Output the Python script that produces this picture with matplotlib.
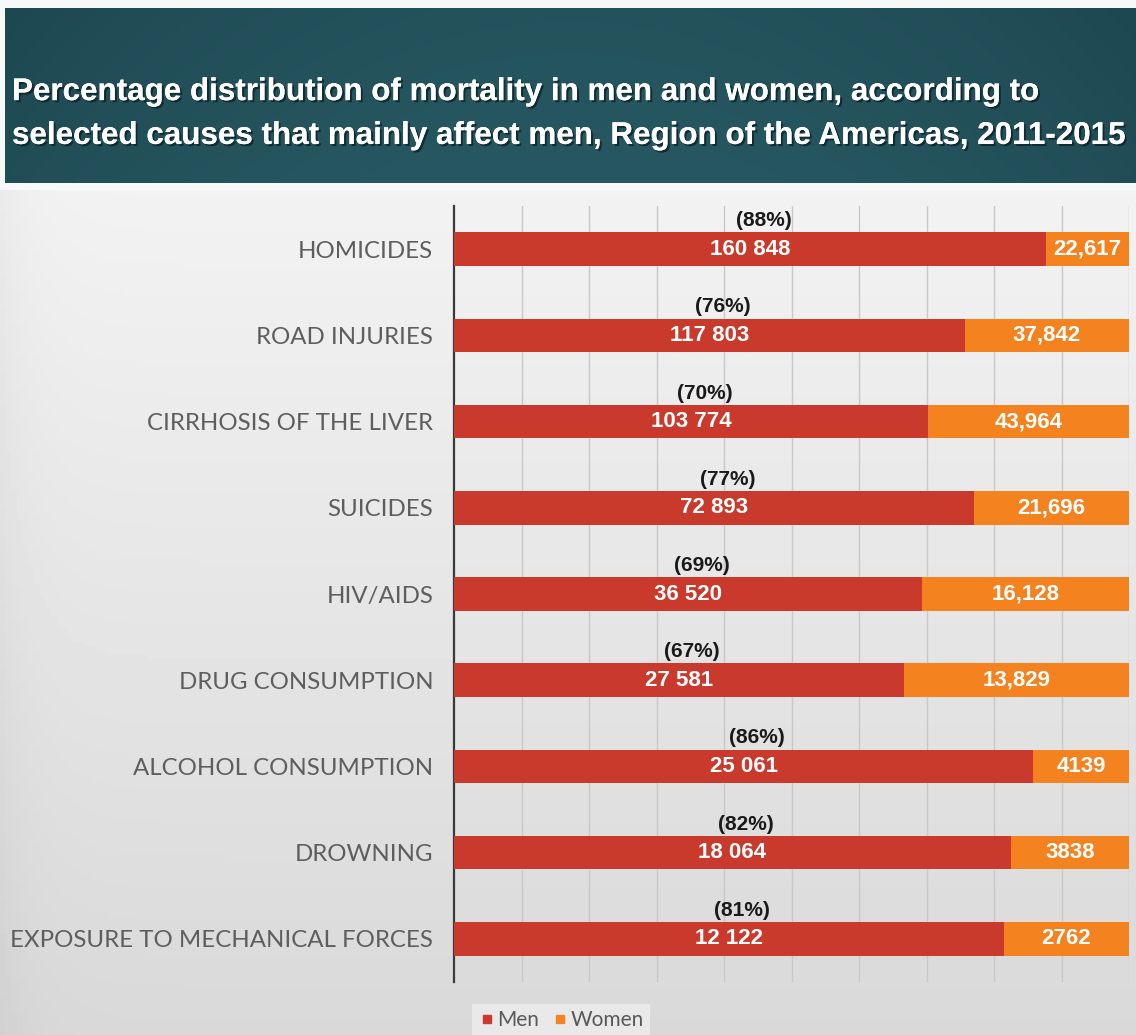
import matplotlib
matplotlib.use("Agg")
import matplotlib.pyplot as plt
import matplotlib.patheffects as pe
from matplotlib.lines import Line2D
import numpy as np

causes = ["HOMICIDES", "ROAD INJURIES", "CIRRHOSIS OF THE LIVER", "SUICIDES",
          "HIV/AIDS", "DRUG CONSUMPTION", "ALCOHOL CONSUMPTION", "DROWNING",
          "EXPOSURE TO MECHANICAL FORCES"]
men = [160848, 117803, 103774, 72893, 36520, 27581, 25061, 18064, 12122]
women = [22617, 37842, 43964, 21696, 16128, 13829, 4139, 3838, 2762]

title = ("Percentage distribution of mortality in men and women, according to\n"
         "selected causes that mainly affect men, Region of the Americas, 2011-2015")

men_color = "#c93a2c"
women_color = "#f4821f"

men = np.array(men, dtype=float)
women = np.array(women, dtype=float)
total = men + women
men_pct = men / total * 100
women_pct = women / total * 100

fig = plt.figure(figsize=(11.36, 10.35), dpi=100)
fig.patch.set_facecolor("#f7f8f8")

# background: light gray gradient + teal header band
bg = fig.add_axes([0, 0, 1, 1])
bg.set_xlim(0, 1)
bg.set_ylim(0, 1)
bg.axis("off")
yy = np.linspace(0, 1, 200)[:, None]
xx = np.linspace(0, 1, 200)[None, :]
gray = 0.85 + 0.10 * yy - 0.03 * np.exp(-xx * 40)
bg.imshow(gray, cmap="gray", vmin=0, vmax=1, extent=[0, 1, 0, 1 - 190 / 1035],
          origin="lower", aspect="auto")
hx = np.linspace(-1, 1, 300)[None, :]
hy = np.linspace(0, 1, 100)[:, None]
shade = 1 - 0.4 * hx ** 2 - 0.2 * hy
c0 = np.array([0x17, 0x3d, 0x47]) / 255
c1 = np.array([0x27, 0x58, 0x61]) / 255
header = c0 + (c1 - c0) * np.clip(shade, 0, 1)[..., None]
bg.imshow(header, extent=[5 / 1136, 1, 1 - 183 / 1035, 1 - 8 / 1035],
          origin="lower", aspect="auto")
bg.text(12 / 1136, 1 - 114 / 1035, title, color="white", fontsize=22.6,
        fontweight="bold", family="Liberation Sans",
        va="center", ha="left", linespacing=1.6,
        path_effects=[pe.withSimplePatchShadow(offset=(1.5, -1.5),
                                               shadow_rgbFace="#0c2228", alpha=0.8),
                      pe.Normal()])

ax = fig.add_axes([454 / 1136, 1 - 982 / 1035, 675 / 1136, 776 / 1035])
ax.patch.set_alpha(0)
y = np.arange(len(causes))
ax.barh(y, men_pct, height=0.39, color=men_color, zorder=3)
ax.barh(y, women_pct, left=men_pct, height=0.39, color=women_color, zorder=3)

ax.set_xlim(0, 100)
ax.set_ylim(len(causes) - 0.5, -0.5)
ax.set_xticks(np.arange(10, 101, 10))
ax.tick_params(axis="x", length=0, labelbottom=False)
ax.grid(axis="x", color="#c8c8c8", linewidth=1, zorder=1)
ax.set_yticks(y)
ax.set_yticklabels(causes, fontsize=17.3, color="#5e5e5e", family="Lato")
ax.tick_params(axis="y", length=0, pad=15)
for s in ["top", "right", "bottom"]:
    ax.spines[s].set_visible(False)
ax.spines["left"].set_color("#3a3a3a")
ax.spines["left"].set_linewidth(1.6)

num_font = "Liberation Sans"
for i in range(len(causes)):
    mlab = f"{int(men[i]):,}".replace(",", " ")
    wlab = f"{int(women[i]):,}" if women[i] >= 10000 else str(int(women[i]))
    ax.text(men_pct[i] / 2, i, mlab, color="white", fontsize=16, fontweight="bold",
            ha="center", va="center", family=num_font, zorder=4)
    ax.text(men_pct[i] + women_pct[i] / 2, i, wlab, color="white", fontsize=16,
            fontweight="bold", ha="center", va="center", family=num_font, zorder=4)
    ax.text(men_pct[i] / 2 + 2, i - 0.33, f"({round(men_pct[i])}%)", color="#1a1a1a",
            fontsize=15, fontweight="bold", ha="center", va="center",
            family=num_font, zorder=4)

handles = [Line2D([], [], marker="s", linestyle="none", color=men_color, markersize=6),
           Line2D([], [], marker="s", linestyle="none", color=women_color, markersize=6)]
leg = fig.legend(handles, ["Men", "Women"], loc="center left",
                 bbox_to_anchor=(462 / 1136, 1 - 1020 / 1035), ncol=2, frameon=True,
                 fontsize=15, handletextpad=0.1, columnspacing=0.6, handlelength=0.8,
                 borderpad=0.3, fancybox=False)
leg.get_frame().set_facecolor("#eeeeee")
leg.get_frame().set_edgecolor("none")
for t in leg.get_texts():
    t.set_color("#595959")
    t.set_family("Lato")

fig.savefig("out.png", dpi=100)
